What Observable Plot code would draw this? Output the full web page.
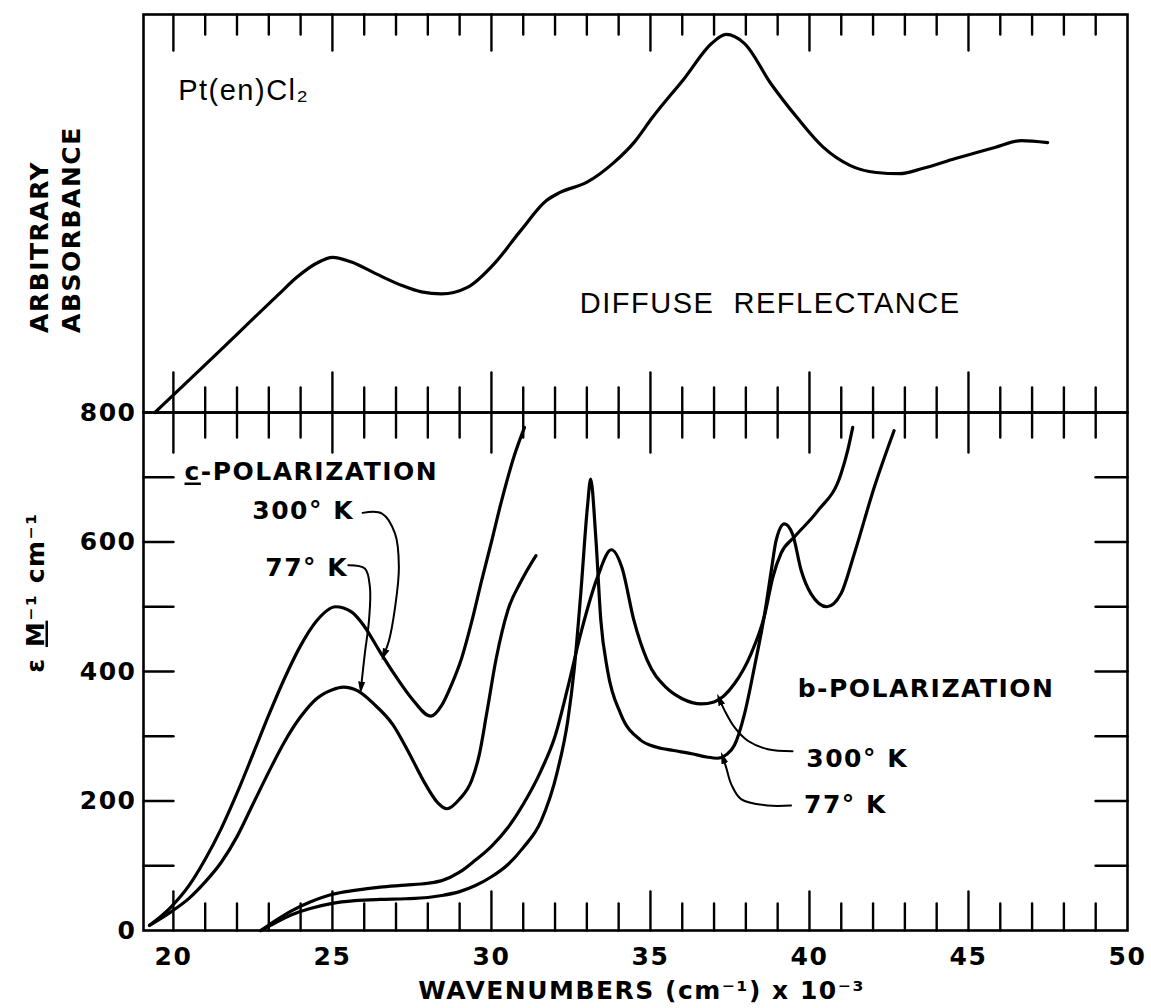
<!DOCTYPE html>
<html>
<head>
<meta charset="utf-8">
<script src="https://cdn.jsdelivr.net/npm/d3@7"></script>
<script src="https://cdn.jsdelivr.net/npm/@observablehq/plot@0.6"></script>
<style>
  body { margin: 0; background: #fff; }
  #chart { position: relative; width: 1151px; height: 1008px; background: #fff; }
  #chart svg { position: absolute; left: 0; overflow: visible; background: transparent; }
</style>
</head>
<body>
<div id="chart"></div>
<script>
// ---------- axis values ----------
const xDomain = [19.06, 50];
const tickX = d3.range(20, 50);                 // 20 … 49, one per 1000 cm-1
const majorX = tickX.filter(d => d % 5 === 0);
const minorX = tickX.filter(d => d % 5 !== 0);
const xLabels = [20, 25, 30, 35, 40, 45, 50];
const yLabels = [0, 200, 400, 600, 800];
const yTicks = [100, 200, 300, 400, 500, 600, 700];

// ---------- upper panel: diffuse reflectance (arbitrary absorbance, 0–1) ----------
const diffuse = [
  [19.42, 0.0], [20.5, 0.082], [21.5, 0.158], [22.5, 0.235], [23.3, 0.296], [23.87, 0.339],
  [24.5, 0.375], [25.01, 0.39], [25.6, 0.378], [26.36, 0.349], [27.19, 0.319], [27.8, 0.303],
  [28.43, 0.298], [29.26, 0.315], [30.09, 0.374], [30.92, 0.457], [31.74, 0.533], [32.16, 0.553],
  [32.99, 0.578], [33.82, 0.626], [34.5, 0.68], [35.06, 0.741], [36.09, 0.842], [36.92, 0.927],
  [37.38, 0.95], [37.96, 0.927], [38.79, 0.826], [39.61, 0.741], [40.44, 0.666], [41.27, 0.621],
  [42.1, 0.603], [42.83, 0.60], [43.55, 0.613], [44.59, 0.638], [45.83, 0.666], [46.66, 0.683],
  [47.49, 0.678]
];

// ---------- lower panel: molar absorptivity ----------
const cPol300 = [
  [19.25, 8], [19.9, 35], [20.5, 70], [21.0, 110], [21.5, 157], [22.0, 212], [22.5, 272],
  [23.0, 333], [23.5, 390], [24.0, 440], [24.5, 478], [25.1, 500], [25.6, 492], [26.0, 470],
  [26.5, 430], [27.0, 392], [27.5, 358], [28.1, 331], [28.44, 348], [28.75, 380], [29.06, 420],
  [29.37, 475], [29.69, 540], [30.0, 600], [30.3, 660], [30.73, 735], [31.04, 777]
];
const cPol77 = [
  [19.25, 8], [19.9, 28], [20.5, 50], [21.0, 75], [21.5, 105], [22.0, 145], [22.5, 195],
  [23.0, 245], [23.5, 292], [24.0, 330], [24.5, 358], [25.0, 372], [25.35, 376], [25.8, 370],
  [26.3, 350], [26.9, 318], [27.4, 275], [27.9, 228], [28.3, 198], [28.6, 188], [29.0, 203],
  [29.38, 232], [29.62, 272], [29.85, 335], [30.15, 420], [30.52, 495], [30.94, 540], [31.4, 579]
];
const bPol300 = [
  [22.75, 0], [23.2, 15], [23.7, 30], [24.3, 44], [25.0, 56], [25.7, 62], [26.5, 67], [27.3, 70],
  [28.0, 73], [28.44, 77], [29.0, 90], [29.48, 108], [30.0, 130], [30.52, 159], [31.0, 195],
  [31.56, 247], [32.0, 300], [32.4, 375], [32.8, 457], [33.33, 545], [33.77, 588], [34.1, 561],
  [34.48, 479], [34.9, 417], [35.5, 375], [36.0, 358], [36.6, 350], [37.0, 353], [37.64, 381],
  [38.17, 428], [38.59, 487], [38.85, 546], [39.11, 583], [39.53, 608], [40.26, 648],
  [40.99, 705], [41.2, 741], [41.36, 777]
];
const bPol77 = [
  [22.75, 0], [23.2, 12], [23.7, 24], [24.3, 34], [25.0, 42], [25.7, 46], [26.5, 48], [27.3, 49],
  [28.0, 51], [28.44, 54], [29.0, 60], [29.48, 69], [30.0, 83], [30.52, 102], [31.0, 128],
  [31.56, 169], [32.08, 247], [32.4, 324], [32.6, 402], [32.81, 521], [33.02, 655], [33.12, 697],
  [33.28, 608], [33.44, 479], [33.65, 402], [34.06, 335], [34.69, 294], [35.2, 283], [35.73, 278],
  [36.3, 273], [36.77, 268], [37.1, 266], [37.4, 272], [37.64, 286], [37.96, 335], [38.27, 407],
  [38.59, 489], [38.8, 556], [38.95, 602], [39.21, 628], [39.47, 612], [39.74, 556], [40.05, 520],
  [40.55, 500], [40.99, 520], [41.41, 582], [42.04, 685], [42.66, 772]
];

// ---------- leader lines for the temperature labels ----------
const leadC300 = [[25.95, 645], [26.56, 644], [26.97, 613], [27.09, 561], [26.97, 499], [26.78, 448], [26.62, 426]];
const leadC77  = [[25.5, 564], [26.02, 559], [26.18, 530], [26.15, 479], [26.02, 428], [25.9, 375]];
const leadB300 = [[39.47, 277], [38.69, 280], [38.06, 293], [37.64, 314], [37.33, 340], [37.17, 357]];
const leadB77  = [[39.42, 193], [38.69, 193], [37.85, 203], [37.54, 226], [37.38, 252], [37.28, 267]];

// ---------- text labels ----------
const upperLabels = [
  {text: "Pt(en)Cl₂", x: 20.15, y: 0.784},
  {text: "DIFFUSE  REFLECTANCE", x: 32.78, y: 0.249}
];
const lowerLabels = [
  {text: "c-POLARIZATION", x: 20.35, y: 695},
  {text: "300° K", x: 22.48, y: 636},
  {text: "77° K", x: 22.89, y: 548},
  {text: "b-POLARIZATION", x: 39.63, y: 361},
  {text: "300° K", x: 39.9, y: 252},
  {text: "77° K", x: 39.83, y: 181}
];

// ---------- helpers ----------
const tickShape = {draw(context, l) { context.moveTo(0, 0); context.lineTo(0, -l); }};
const vtick = (data, opts) => Plot.vector(data, {shape: tickShape, stroke: "black", strokeWidth: 2.4, anchor: "start", ...opts});

function arrowHead(color) {
  const m = d3.create("svg:marker")
    .attr("viewBox", "-6 -5 12 10")
    .attr("markerWidth", 12).attr("markerHeight", 10)
    .attr("markerUnits", "userSpaceOnUse")
    .attr("orient", "auto")
    .attr("fill", color).attr("stroke", "none");
  m.append("path").attr("d", "M-6,-3.5L6,0L-6,3.5Z");
  return m.node();
}

const curve = (data) => Plot.line(data, {x: d => d[0], y: d => d[1], curve: "monotone-x", stroke: "black", strokeWidth: 3.2});
const leader = (data) => Plot.line(data, {x: d => d[0], y: d => d[1], curve: "catmull-rom", stroke: "black", strokeWidth: 2, markerEnd: arrowHead});

const chart = document.getElementById("chart");
const boldFont = "'DejaVu Sans', 'Liberation Sans', sans-serif";

// ---------- upper panel ----------
const upper = Plot.plot({
  width: 1151, height: 412,
  marginLeft: 143, marginRight: 24, marginTop: 14, marginBottom: 0,
  x: {domain: xDomain, axis: null},
  y: {domain: [0, 1], axis: null},
  style: {fontFamily: "'Liberation Sans', Arial, sans-serif", fontSize: "29px", letterSpacing: "1.5px", background: "transparent", overflow: "visible"},
  marks: [
    Plot.frame({stroke: "black", strokeWidth: 2.6}),
    vtick(minorX, {x: d => d, y: 1, rotate: 180, length: 20}),
    vtick(majorX, {x: d => d, y: 1, rotate: 180, length: 36}),
    vtick(minorX, {x: d => d, y: 0, anchor: "middle", length: 50}),
    vtick(majorX, {x: d => d, y: 0, anchor: "middle", length: 80}),
    curve(diffuse),
    Plot.text(upperLabels, {x: "x", y: "y", text: "text", textAnchor: "start", lineAnchor: "bottom"}),
    Plot.text(["ARBITRARY\nABSORBANCE"], {frameAnchor: "left", y: 0.2, dx: -90, rotate: -90, textAnchor: "start", lineAnchor: "middle", lineHeight: 1.3, fontSize: 25, fontWeight: "bold", fontFamily: boldFont})
  ]
});
upper.style.top = "0px";
chart.appendChild(upper);

// ---------- lower panel ----------
const lower = Plot.plot({
  width: 1151, height: 596,
  marginLeft: 143, marginRight: 24, marginTop: 0, marginBottom: 78,
  x: {domain: xDomain},
  y: {domain: [0, 800]},
  style: {fontFamily: boldFont, fontSize: "25px", fontWeight: "bold", letterSpacing: "1.5px", background: "transparent", overflow: "visible"},
  marks: [
    Plot.frame({stroke: "black", strokeWidth: 2.6}),
    vtick(minorX, {x: d => d, y: 0, rotate: 0, length: 27}),
    vtick(majorX, {x: d => d, y: 0, rotate: 0, length: 39}),
    vtick(yTicks, {x: xDomain[0], y: d => d, rotate: 90, length: 30}),
    vtick(yTicks, {x: xDomain[1], y: d => d, rotate: -90, length: 32}),
    Plot.axisX({ticks: xLabels, tickSize: 0, tickPadding: 17, label: null, tickFormat: d => `${d}`}),
    Plot.axisY({ticks: yLabels, tickSize: 0, tickPadding: 7, label: null, tickFormat: d => `${d}`}),
    curve(cPol300),
    curve(cPol77),
    curve(bPol300),
    curve(bPol77),
    leader(leadC300),
    leader(leadC77),
    leader(leadB300),
    leader(leadB77),
    Plot.text(lowerLabels, {x: "x", y: "y", text: "text", textAnchor: "start", lineAnchor: "bottom"}),
    Plot.text(["WAVENUMBERS (cm⁻¹) x 10⁻³"], {x: 27.7, frameAnchor: "bottom", dy: 68, textAnchor: "start", lineAnchor: "bottom", fontSize: 25}),
    Plot.text(["ε M⁻¹ cm⁻¹"], {frameAnchor: "left", y: 522, dx: -108, rotate: -90, textAnchor: "middle", lineAnchor: "middle", fontSize: 25})
  ]
});
lower.style.top = "412px";
chart.appendChild(lower);

// underline the "c" of c-POLARIZATION and the "M" of the molar unit, as in the original lettering
d3.select(lower).selectAll("text").each(function () {
  const s = this.textContent;
  const el = d3.select(this);
  if (s === "c-POLARIZATION") {
    el.text(null);
    el.append("tspan").attr("text-decoration", "underline").text("c");
    el.append("tspan").text("-POLARIZATION");
  } else if (s === "ε M⁻¹ cm⁻¹") {
    el.text(null);
    el.append("tspan").text("ε ");
    el.append("tspan").attr("text-decoration", "underline").text("M");
    el.append("tspan").text("⁻¹ cm⁻¹");
  }
});
</script>
</body>
</html>
